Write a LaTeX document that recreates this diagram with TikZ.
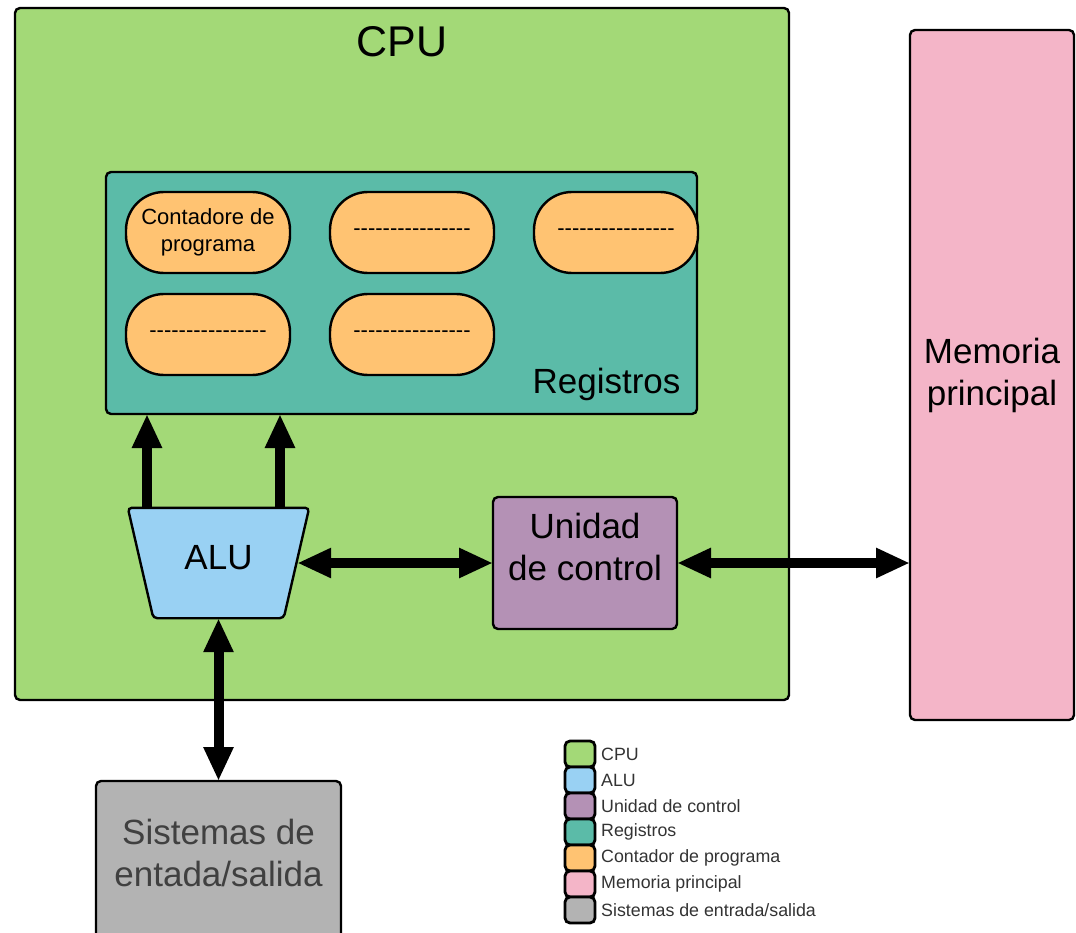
\documentclass[tikz,border=0pt]{standalone}
\usepackage{fontspec}
\setmainfont{Liberation Sans}
\usetikzlibrary{arrows.meta,positioning}
\definecolor{cpucol}{HTML}{A3D977}
\definecolor{alucol}{HTML}{99D1F3}
\definecolor{uccol}{HTML}{B491B5}
\definecolor{regcol}{HTML}{5BBBA8}
\definecolor{pccol}{HTML}{FFC372}
\definecolor{memcol}{HTML}{F4B5C8}
\definecolor{siscol}{HTML}{B3B3B3}
\newcommand{\dashes}{\foreach \i in {1,...,16}{\hbox{-}}}
\tikzset{
	box/.style={draw=black, line width=2.4pt, rounded corners=5pt, outer sep=0pt, inner sep=0pt},
	pill/.style={box, fill=pccol, rounded corners=38pt, minimum width=164pt, minimum height=81pt, align=center, font=\fontsize{22}{27}\selectfont},
	big/.style={font=\fontsize{35}{42}\selectfont, align=center},
	bus/.style={line width=10pt, {Triangle[length=34pt,width=28pt]}-{Triangle[length=34pt,width=28pt]}},
	upbus/.style={line width=10pt, -{Triangle[length=34pt,width=28pt]}},
	legbox/.style={box, line width=2.8pt, minimum width=30pt, minimum height=26pt},
	legtext/.style={anchor=west, text=black!80, font=\fontsize{17.8}{20}\selectfont, inner sep=0pt}
}
\begin{document}
\begin{tikzpicture}[x=1pt,y=-1pt]
\useasboundingbox (0,0) rectangle (1076,933);
%boxes
\node[box, fill=cpucol, minimum width=774pt, minimum height=692pt] (cpu) at (402,354) {};
\node[big, font=\fontsize{43}{50}\selectfont] (cputext) at ([yshift=-34pt]cpu.north) {CPU};
\node[box, fill=memcol, minimum width=164pt, minimum height=690pt, big] (mem) at (992,375) {Memoria\\principal};
\node[box, fill=regcol, minimum width=591pt, minimum height=242pt] (reg) at (401.5,293) {};
\node[big, anchor=base east] (regtext) at ([xshift=-13pt,yshift=21pt]reg.south east) {Registros};
%registers
\node[pill] (p1) at (208,232.5) {Contadore de\\programa};
\node[pill, right=40pt of p1] (p2) {\dashes};
\node[pill, right=40pt of p2] (p3) {\dashes};
\node[pill, below=21pt of p1] (p4) {\dashes};
\node[pill, right=40pt of p4] (p5) {\dashes};
%alu
\node[minimum width=181pt, minimum height=110pt, inner sep=0pt] (alu) at (218.5,563) {};
\draw[box, fill=alucol, rounded corners=4pt] (alu.north west) -- (alu.north east) -- ([xshift=-25.5pt]alu.south east) -- ([xshift=25.5pt]alu.south west) -- cycle;
\node[big] (alutext) at ([yshift=5pt]alu.center) {ALU};
%control and i/o
\node[box, fill=uccol, minimum width=184pt, minimum height=132pt, big, label={[big, yshift=16pt]center:Unidad\\de control}] (uc) at (585,563) {};
\node[box, fill=siscol, minimum width=245pt, minimum height=160pt, big, label={[big, text=black!75, yshift=8pt]center:Sistemas de\\entada/salida}] (sis) at (218.5,861) {};
%connectors
\draw[upbus] ([xshift=-71.5pt]alu.north) -- ([xshift=-71.5pt]alu.north |- reg.south);
\draw[upbus] ([xshift=61.5pt]alu.north) -- ([xshift=61.5pt]alu.north |- reg.south);
\draw[bus] ([xshift=-12pt]alu.east) -- (uc.west);
\draw[bus] (uc.east) -- (uc.east -| mem.west);
\draw[bus] (alu.south) -- (sis.north);
%legend
\foreach \c/\t [count=\i] in {cpucol/CPU, alucol/ALU, uccol/Unidad de control, regcol/Registros, pccol/Contador de programa, memcol/Memoria principal, siscol/{Sistemas de entrada/salida}}{
	\node[legbox, fill=\c] (leg\i) at (580,{728+26*\i}) {};
	\node[legtext] (legt\i) at ([xshift=6pt]leg\i.east) {\t};
	}
\end{tikzpicture}
\end{document}
